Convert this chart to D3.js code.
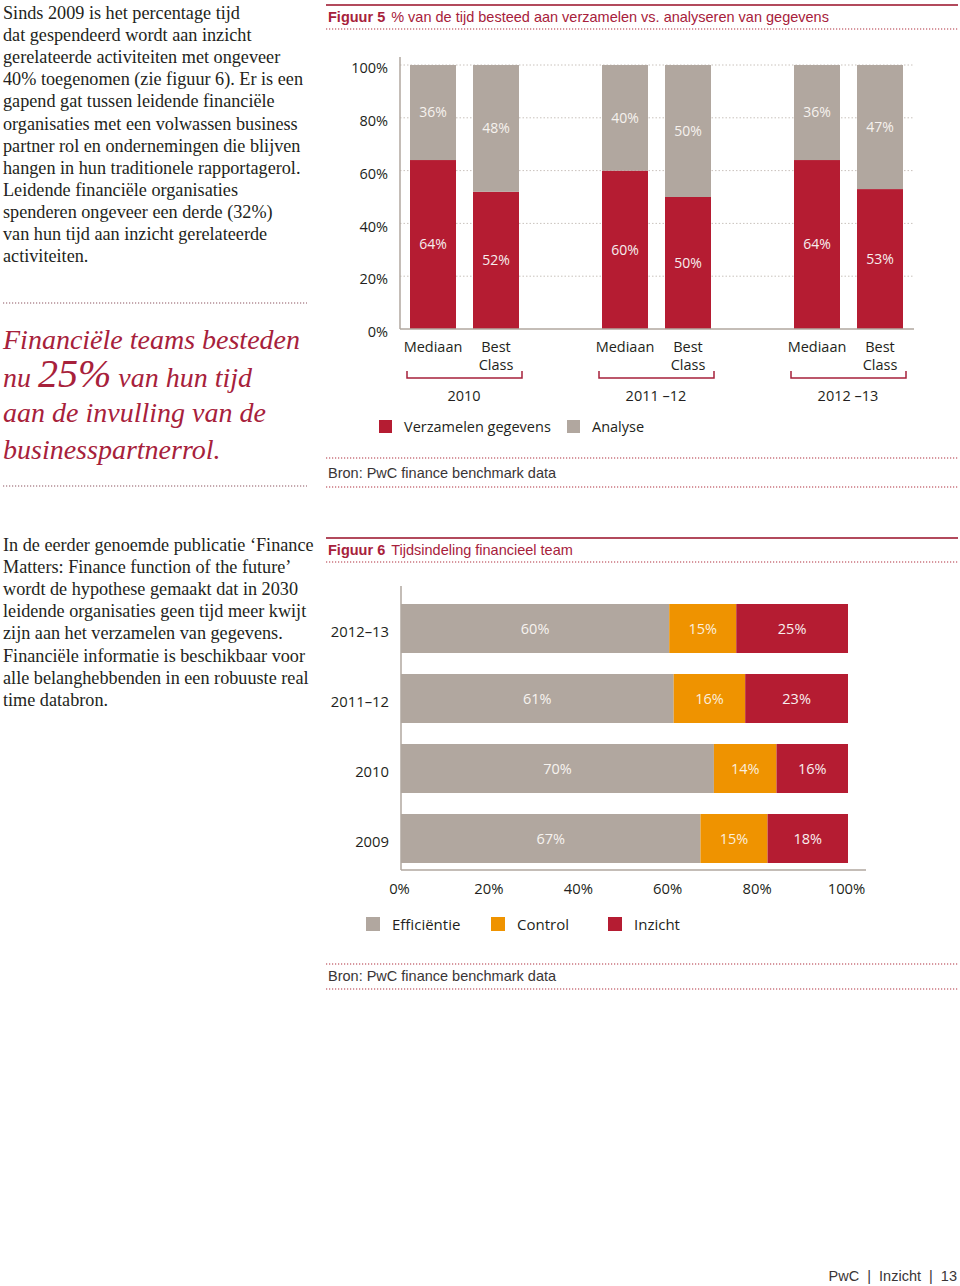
<!DOCTYPE html>
<html><head><meta charset="utf-8">
<script src="https://cdn.jsdelivr.net/npm/d3@7"></script>
<style>
html,body{margin:0;padding:0;background:#fff;}
svg{display:block;}
</style></head>
<body>
<svg id="c" width="960" height="1286"></svg>
<script>
// ---------- DATA ----------
const fig5Groups = ["2010", "2011 \u201312", "2012 \u201313"];
const fig5Bars = ["Mediaan", "Best Class"];
const fig5Verzamelen = [64, 52, 60, 50, 64, 53];
const fig5Analyse = [36, 48, 40, 50, 36, 47];
const fig5Ticks = [0, 20, 40, 60, 80, 100];
const fig5Legend = ["Verzamelen gegevens", "Analyse"];

const fig6Categories = ["2012\u201313", "2011\u201312", "2010", "2009"];
const fig6Efficientie = [60, 61, 70, 67];
const fig6Control = [15, 16, 14, 15];
const fig6Inzicht = [25, 23, 16, 18];
const fig6Ticks = [0, 20, 40, 60, 80, 100];
const fig6Legend = ["Effici\u00ebntie", "Control", "Inzicht"];

const textTop = ["Sinds 2009 is het percentage tijd",
 "dat gespendeerd wordt aan inzicht",
 "gerelateerde activiteiten met ongeveer",
 "40% toegenomen (zie figuur 6). Er is een",
 "gapend gat tussen leidende financi\u00eble",
 "organisaties met een volwassen business",
 "partner rol en ondernemingen die blijven",
 "hangen in hun traditionele rapportagerol.",
 "Leidende financi\u00eble organisaties",
 "spenderen ongeveer een derde (32%)",
 "van hun tijd aan inzicht gerelateerde",
 "activiteiten."];
const textBottom = ["In de eerder genoemde publicatie \u2018Finance",
 "Matters: Finance function of the future\u2019",
 "wordt de hypothese gemaakt dat in 2030",
 "leidende organisaties geen tijd meer kwijt",
 "zijn aan het verzamelen van gegevens.",
 "Financi\u00eble informatie is beschikbaar voor",
 "alle belanghebbenden in een robuuste real",
 "time databron."];

// ---------- STYLE ----------
const RED = "#b51c32", GRAY = "#b1a79f", ORANGE = "#ef9300";
const TITLERED = "#a7213b", TEXT = "#231f20", AXIS = "#b1a79f";
const SANS = "'Liberation Sans', Arial, sans-serif";
const CHART = "'Open Sans', sans-serif";
const SERIF = "'Liberation Serif', 'DejaVu Serif', serif";

const svg = d3.select("#c");

function dotted(x1, x2, y, color) {
  svg.append("line").attr("x1", x1).attr("x2", x2).attr("y1", y).attr("y2", y)
    .attr("stroke", color).attr("stroke-width", 1.2).attr("stroke-dasharray", "1.2,1.8");
}
function solid(x1, x2, y) {
  svg.append("line").attr("x1", x1).attr("x2", x2).attr("y1", y).attr("y2", y)
    .attr("stroke", "#b24a5c").attr("stroke-width", 2);
}

// ---------- LEFT TEXT ----------
const t1 = svg.append("text").attr("font-family", SERIF).attr("font-size", 18.2).attr("fill", TEXT);
textTop.forEach((s, i) => t1.append("tspan").attr("x", 3).attr("y", 19 + i * 22.1).text(s));

dotted(3, 307, 303, "#8c5560");
const q = svg.append("text").attr("font-family", SERIF).attr("font-style", "italic")
  .attr("font-size", 28).attr("fill", TITLERED);
q.append("tspan").attr("x", 3).attr("y", 349).text("Financi\u00eble teams besteden");
q.append("tspan").attr("x", 3).attr("y", 387).text("nu ");
q.append("tspan").attr("font-size", 40).text("25%");
q.append("tspan").text(" van hun tijd");
q.append("tspan").attr("x", 3).attr("y", 422).text("aan de invulling van de");
q.append("tspan").attr("x", 3).attr("y", 459).text("businesspartnerrol.");
dotted(3, 307, 486, "#8c5560");

const t2 = svg.append("text").attr("font-family", SERIF).attr("font-size", 18.2).attr("fill", TEXT);
textBottom.forEach((s, i) => t2.append("tspan").attr("x", 3).attr("y", 551 + i * 22.1).text(s));

// ---------- FIGURE 5 ----------
solid(326, 958, 5);
const tt5 = svg.append("text").attr("x", 328).attr("y", 22).attr("font-family", SANS)
  .attr("font-size", 14.5).attr("fill", TITLERED);
tt5.append("tspan").attr("font-weight", "bold").text("Figuur 5");
tt5.append("tspan").attr("dx", 6).text("% van de tijd besteed aan verzamelen vs. analyseren van gegevens");
dotted(326, 958, 29, "#b0303f");

const y5 = d3.scaleLinear().domain([0, 100]).range([329, 65]);
const xg = d3.scaleBand().domain(fig5Groups).range([368, 944]).padding(0);
const xb = d3.scaleBand().domain(fig5Bars).range([42, 151]).paddingInner(0.27).paddingOuter(0);

// gridlines
svg.append("g").selectAll("line").data(fig5Ticks.filter(d => d > 0)).join("line")
  .attr("x1", 400).attr("x2", 914).attr("y1", d => y5(d)).attr("y2", d => y5(d))
  .attr("stroke", "#c9c2bc").attr("stroke-width", 1).attr("stroke-dasharray", "1.5,2");

// y tick labels via axis
const ax5 = svg.append("g").attr("transform", "translate(388,0)")
  .call(d3.axisLeft(y5).tickValues(fig5Ticks).tickFormat(d => d + "%").tickSize(0).tickPadding(0));
ax5.select(".domain").remove();
ax5.selectAll("text").attr("font-family", CHART).attr("font-size", 14.5).attr("fill", TEXT)
  .attr("dy", "0.32em").attr("transform", "translate(0,3)");

const bars5 = [];
fig5Groups.forEach((g, gi) => fig5Bars.forEach((b, bi) => {
  const i = gi * fig5Bars.length + bi;
  bars5.push({g, b, v: fig5Verzamelen[i], a: fig5Analyse[i]});
}));
const bx = d => xg(d.g) + xb(d.b);
const bg = svg.append("g");
bg.selectAll("rect.v").data(bars5).join("rect").attr("class", "v")
  .attr("x", bx).attr("width", xb.bandwidth())
  .attr("y", d => y5(d.v)).attr("height", d => y5(0) - y5(d.v)).attr("fill", RED);
bg.selectAll("rect.a").data(bars5).join("rect").attr("class", "a")
  .attr("x", bx).attr("width", xb.bandwidth())
  .attr("y", d => y5(d.v + d.a)).attr("height", d => y5(d.v) - y5(d.v + d.a)).attr("fill", GRAY);
bg.selectAll("text.v").data(bars5).join("text").attr("class", "v")
  .attr("x", d => bx(d) + xb.bandwidth() / 2).attr("y", d => (y5(0) + y5(d.v)) / 2)
  .attr("dy", "0.35em").attr("text-anchor", "middle").attr("font-family", CHART)
  .attr("font-size", 14).attr("fill", "#f6eeee").text(d => d.v + "%");
bg.selectAll("text.a").data(bars5).join("text").attr("class", "a")
  .attr("x", d => bx(d) + xb.bandwidth() / 2).attr("y", d => (y5(d.v) + y5(d.v + d.a)) / 2)
  .attr("dy", "0.35em").attr("text-anchor", "middle").attr("font-family", CHART)
  .attr("font-size", 14).attr("fill", "#f6f2ee").text(d => d.a + "%");

// axes lines
svg.append("line").attr("x1", 400).attr("x2", 400).attr("y1", 57).attr("y2", y5(0))
  .attr("stroke", AXIS).attr("stroke-width", 1.5);
svg.append("line").attr("x1", 400).attr("x2", 914).attr("y1", y5(0)).attr("y2", y5(0))
  .attr("stroke", AXIS).attr("stroke-width", 1.5);

// bar labels
bars5.forEach(d => {
  const cx = bx(d) + xb.bandwidth() / 2;
  const words = d.b.split(" ");
  const t = svg.append("text").attr("text-anchor", "middle").attr("font-family", CHART)
    .attr("font-size", 14.5).attr("fill", TEXT);
  words.forEach((w, i) => t.append("tspan").attr("x", cx).attr("y", 352 + i * 18).text(w));
});
// brackets + group labels
fig5Groups.forEach(g => {
  const x0 = xg(g) + 39, x1 = xg(g) + 154;
  svg.append("path").attr("d", `M${x0},371V378H${x1}V371`).attr("fill", "none")
    .attr("stroke", "#a7213b").attr("stroke-width", 1.5);
  svg.append("text").attr("x", xg(g) + xg.bandwidth() / 2).attr("y", 401)
    .attr("text-anchor", "middle").attr("font-family", CHART).attr("font-size", 14.5)
    .attr("fill", TEXT).text(g);
});
// legend
const lg5 = [{x: 379, c: RED}, {x: 567, c: GRAY}];
fig5Legend.forEach((s, i) => {
  svg.append("rect").attr("x", lg5[i].x).attr("y", 420).attr("width", 13).attr("height", 13).attr("fill", lg5[i].c);
  svg.append("text").attr("x", lg5[i].x + 25).attr("y", 432).attr("font-family", CHART)
    .attr("font-size", 14.5).attr("fill", TEXT).text(s);
});
dotted(326, 958, 458, "#b0303f");
svg.append("text").attr("x", 328).attr("y", 478).attr("font-family", SANS).attr("font-size", 14.5)
  .attr("fill", "#3a3536").text("Bron: PwC finance benchmark data");
dotted(326, 958, 487, "#b0303f");

// ---------- FIGURE 6 ----------
solid(326, 958, 538);
const tt6 = svg.append("text").attr("x", 328).attr("y", 555).attr("font-family", SANS)
  .attr("font-size", 14.5).attr("fill", TITLERED);
tt6.append("tspan").attr("font-weight", "bold").text("Figuur 6");
tt6.append("tspan").attr("dx", 6).text("Tijdsindeling financieel team");
dotted(326, 958, 562, "#b0303f");

const x6 = d3.scaleLinear().domain([0, 100]).range([401, 848]);
const y6 = d3.scaleBand().domain(fig6Categories).range([604, 863]).paddingInner(0.3).paddingOuter(0);
const rows6 = fig6Categories.map((c, i) => ({c, parts: [
  {v0: 0, v1: fig6Efficientie[i], col: GRAY, tc: "#f7f3ef"},
  {v0: fig6Efficientie[i], v1: fig6Efficientie[i] + fig6Control[i], col: ORANGE, tc: "#fbeede"},
  {v0: fig6Efficientie[i] + fig6Control[i], v1: fig6Efficientie[i] + fig6Control[i] + fig6Inzicht[i], col: RED, tc: "#f8eeee"}
]}));
const rg = svg.append("g").selectAll("g").data(rows6).join("g");
rg.selectAll("rect").data(d => d.parts.map(p => ({...p, c: d.c}))).join("rect")
  .attr("x", d => x6(d.v0)).attr("width", d => x6(d.v1) - x6(d.v0))
  .attr("y", d => y6(d.c)).attr("height", y6.bandwidth()).attr("fill", d => d.col);
rg.selectAll("text").data(d => d.parts.map(p => ({...p, c: d.c}))).join("text")
  .attr("x", d => (x6(d.v0) + x6(d.v1)) / 2).attr("y", d => y6(d.c) + y6.bandwidth() / 2)
  .attr("dy", "0.35em").attr("text-anchor", "middle").attr("font-family", CHART)
  .attr("font-size", 14.5).attr("fill", d => d.tc).text(d => (d.v1 - d.v0) + "%");

const ay6 = svg.append("g").attr("transform", "translate(389,0)")
  .call(d3.axisLeft(y6).tickSize(0).tickPadding(0));
ay6.select(".domain").remove();
ay6.selectAll("text").attr("font-family", CHART).attr("font-size", 14.8).attr("fill", TEXT)
  .attr("dy", "0.32em").attr("transform", "translate(0,4)");

const ax6 = svg.append("g").attr("transform", "translate(-2,889)")
  .call(d3.axisBottom(x6).tickValues(fig6Ticks).tickFormat(d => d + "%").tickSize(0).tickPadding(0));
ax6.select(".domain").remove();
ax6.selectAll("text").attr("font-family", CHART).attr("font-size", 14.8).attr("fill", TEXT)
  .attr("dy", "0.32em");

svg.append("line").attr("x1", 401).attr("x2", 401).attr("y1", 586).attr("y2", 870)
  .attr("stroke", AXIS).attr("stroke-width", 1.5);
svg.append("line").attr("x1", 401).attr("x2", 866).attr("y1", 870).attr("y2", 870)
  .attr("stroke", AXIS).attr("stroke-width", 1.5);

const lg6 = [{x: 366, c: GRAY}, {x: 491, c: ORANGE}, {x: 608, c: RED}];
fig6Legend.forEach((s, i) => {
  svg.append("rect").attr("x", lg6[i].x).attr("y", 917).attr("width", 14).attr("height", 14).attr("fill", lg6[i].c);
  svg.append("text").attr("x", lg6[i].x + 26).attr("y", 930).attr("font-family", CHART)
    .attr("font-size", 15).attr("fill", TEXT).text(s);
});
dotted(326, 958, 964, "#b0303f");
svg.append("text").attr("x", 328).attr("y", 981).attr("font-family", SANS).attr("font-size", 14.5)
  .attr("fill", "#3a3536").text("Bron: PwC finance benchmark data");
dotted(326, 958, 989, "#b0303f");

// ---------- FOOTER ----------
svg.append("text").attr("x", 957).attr("y", 1281).attr("text-anchor", "end")
  .attr("font-family", SANS).attr("font-size", 14.5).attr("fill", "#3a3536")
  .style("white-space", "pre")
  .text("PwC  |  Inzicht  |  13");
</script>
</body></html>
